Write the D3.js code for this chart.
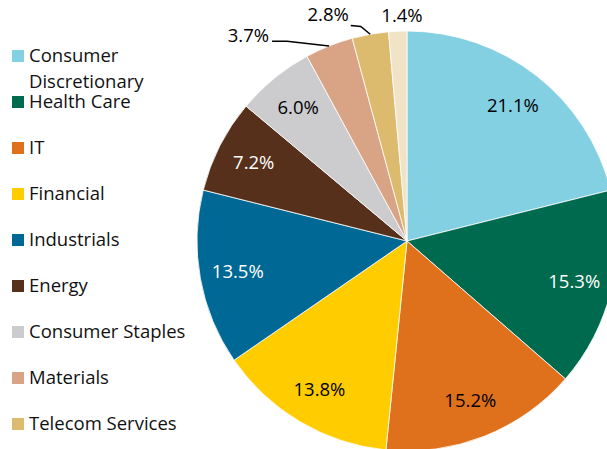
<!DOCTYPE html>
<html>
<head>
<meta charset="utf-8">
<script src="https://cdn.jsdelivr.net/npm/d3@7"></script>
<style>
  html, body { margin: 0; padding: 0; background: #fff; }
  svg { display: block; font-family: "Open Sans", sans-serif; }
</style>
</head>
<body>
<div id="chart"></div>
<script>
// sector weights
const sectors = ["Consumer Discretionary", "Health Care", "IT", "Financial", "Industrials",
    "Energy", "Consumer Staples", "Materials", "Telecom Services", "Utilities"];
const weights = [21.1, 15.3, 15.2, 13.8, 13.5, 7.2, 6.0, 3.7, 2.8, 1.4];
const colors = ["#83D0E3", "#006A4E", "#E0711C", "#FFCC00", "#006894",
    "#56301A", "#CCCCCE", "#D9A385", "#DCBB6E", "#F0E3C6"];

// label nudges for the small slices that sit outside the pie
const outsideNudge = {7: [-74, 6], 8: [-39, -2], 9: [5, 2]};

var width = 607, height = 449;
var cx = 407, cy = 241, radius = 210;

var svg = d3.select("#chart").append("svg")
    .attr("width", width)
    .attr("height", height);

var data = sectors.map((s, i) => ({name: s, value: weights[i], color: colors[i], i: i}));

var pie = d3.pie()
    .value(d => d.value)
    .sort(null);

var arc = d3.arc()
    .innerRadius(0)
    .outerRadius(radius);

var arcs = pie(data);

var g = svg.append("g").attr("transform", "translate(" + cx + "," + cy + ")");

g.selectAll("path.slice").data(arcs).enter().append("path")
    .attr("class", "slice")
    .attr("d", arc)
    .attr("fill", d => d.data.color)
    .attr("stroke", "#fff")
    .attr("stroke-width", 0.8);

var fmt = d3.format(".1f");
var polar = (a, r) => [Math.sin(a) * r, -Math.cos(a) * r];

arcs.forEach(d => {
    var mid = (d.startAngle + d.endAngle) / 2;
    var inside = d.data.value >= 5;
    var pos, col;
    if (inside) {
        pos = polar(mid, 172);
        col = d.data.i === 4 || d.data.i === 1 || d.data.i === 5 ? "#fff" : "#000";
    } else {
        var n = outsideNudge[d.data.i] || [0, 0];
        pos = polar(mid, radius + 18);
        pos = [pos[0] + n[0], pos[1] + n[1]];
        col = "#000";
    }
    var t = g.append("text")
        .attr("x", pos[0])
        .attr("y", pos[1])
        .attr("dy", "0.35em")
        .attr("text-anchor", "middle")
        .attr("font-size", 18.5)
        .attr("fill", col)
        .text(fmt(d.data.value) + "%");

    // leader lines for the two crowded slices
    if (d.data.i === 7 || d.data.i === 8) {
        var bb = t.node().getBBox();
        var edge = polar(mid, radius);
        var end, elbow;
        if (d.data.i === 7) {
            end = [bb.x + bb.width + 3, pos[1] + 6];
            elbow = [end[0] + 15, end[1]];
        } else {
            end = [bb.x + bb.width + 2, pos[1] + 11];
            elbow = [end[0] + 10, end[1] + 1];
        }
        g.append("path")
            .attr("fill", "none")
            .attr("stroke", "#000")
            .attr("stroke-width", 1.5)
            .attr("d", d3.line()([end, elbow, edge]));
    }
});

// legend (the last entry falls below the visible area, as in the original)
var legendTop = 56, rowStep = 46;
var shown = data.filter((d, i) => legendTop + i * rowStep < height - 10);
var legend = svg.append("g").attr("transform", "translate(12," + legendTop + ")");
var item = legend.selectAll("g.item").data(shown).enter().append("g")
    .attr("class", "item")
    .attr("transform", (d, i) => "translate(0," + (i * rowStep) + ")");

item.append("rect")
    .attr("x", 0).attr("y", -6)
    .attr("width", 12).attr("height", 12)
    .attr("fill", d => d.color);

item.each(function (d) {
    var words = d.name === "Consumer Discretionary" ? ["Consumer", "Discretionary"] : [d.name];
    var txt = d3.select(this).append("text")
        .attr("x", 17)
        .attr("font-size", 18.5)
        .attr("fill", "#111");
    words.forEach((w, k) => {
        txt.append("tspan")
            .attr("x", 17)
            .attr("y", k * 26)
            .attr("dy", "0.35em")
            .text(w);
    });
});
</script>
</body>
</html>
